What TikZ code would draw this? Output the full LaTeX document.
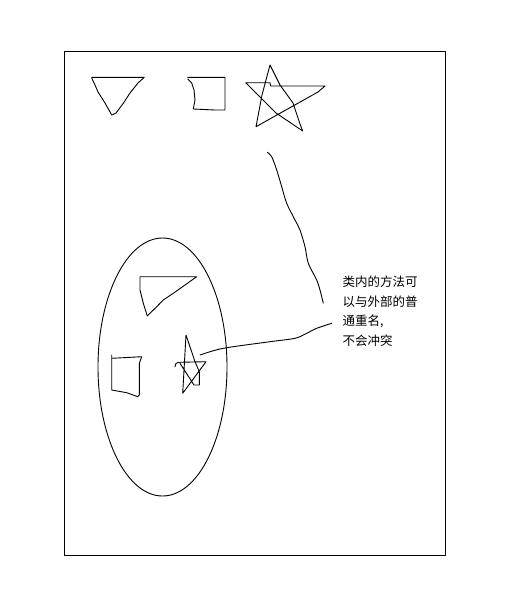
\documentclass[tikz,border=0pt]{standalone}
\usepackage{fontspec}
\newfontfamily\cjk{Noto Sans CJK SC}
\begin{document}
\begin{tikzpicture}[x=1pt,y=-1pt,
  ink/.style={line width=0.9pt,line join=round,line cap=round},
  note/.style={font=\cjk\fontsize{12.5}{19.5}\selectfont,align=left,inner sep=0pt,anchor=north west}]
\useasboundingbox (0,0) rectangle (509,600);
% frame
\draw[ink] (64.3,51.7) rectangle (445,555);
% top triangle
\draw[ink] (91.7,77.3) -- (144.3,77.3) -- (138,83) -- (130,93) -- (123.3,103.3) -- (116,113) -- (111.7,115)
  -- (105,103) -- (98,92) -- (95,85) -- (91.7,78);
% top square
\draw[ink] (187.7,77.3) -- (225,77.3) -- (225,110) -- (215,110) -- (193.3,109) -- (195,100) -- (194,90) -- (191.7,83) -- (187.7,79);
% top star
\draw[ink] (256,126.7) -- (262,95) -- (270,65) -- (280,85) -- (293,103) -- (300,124) -- (302.7,131)
  -- (276,113) -- (245.7,82.7) -- (270,82.7) -- (270.7,86) -- (325,86) -- (318,92) -- (256,126.7);
% long stroke
\draw[ink] plot[smooth] coordinates {(267.3,152.3) (271.7,156.7) (276.7,170) (281.7,186.7) (286.7,203.3) (295,220) (300,230) (305,246.7) (308.3,263.3) (316.7,280) (320,290) (323.3,303.3)};
% ellipse
\draw[ink] (162.5,367) ellipse [x radius=64.5pt, y radius=129pt];
% inner triangle
\draw[ink] (140,276.7) -- (196.7,276.7) -- (185,285) -- (173.3,293.3) -- (163.3,300) -- (156.7,306.7) -- (147.3,316)
  -- (143.3,303.3) -- (140,290) -- (140,276.7);
% inner square
\draw[ink] (111.7,355) -- (111.7,390) -- (126.7,392.7) -- (137.7,396.7) -- (139.3,395) -- (139.3,363.3) -- (141.7,356.7) -- (111.7,358.3);
% inner star
\draw[ink] (175,366.7) .. controls (175.5,363.5) .. (178.3,362.3) -- (206,361.7) -- (182.7,393.3) -- (186,335)
  -- (195,361.7) -- (199.3,371.7) -- (199.3,385) -- (194,385) -- (180,363.3);
% note
\node[note] (txt) at (342.5,276) {类内的方法可\\以与外部的普\\通重名,\\不会冲突};
% connector
\coordinate (c0) at (331.7,323.3);
\coordinate (c1) at (200,355);
\draw[ink] plot[smooth] coordinates {(c0) (316.7,328.3) (306.7,333.3) (295,338.3) (270,341.7) (223.3,348.3) (c1)};
\end{tikzpicture}
\end{document}
